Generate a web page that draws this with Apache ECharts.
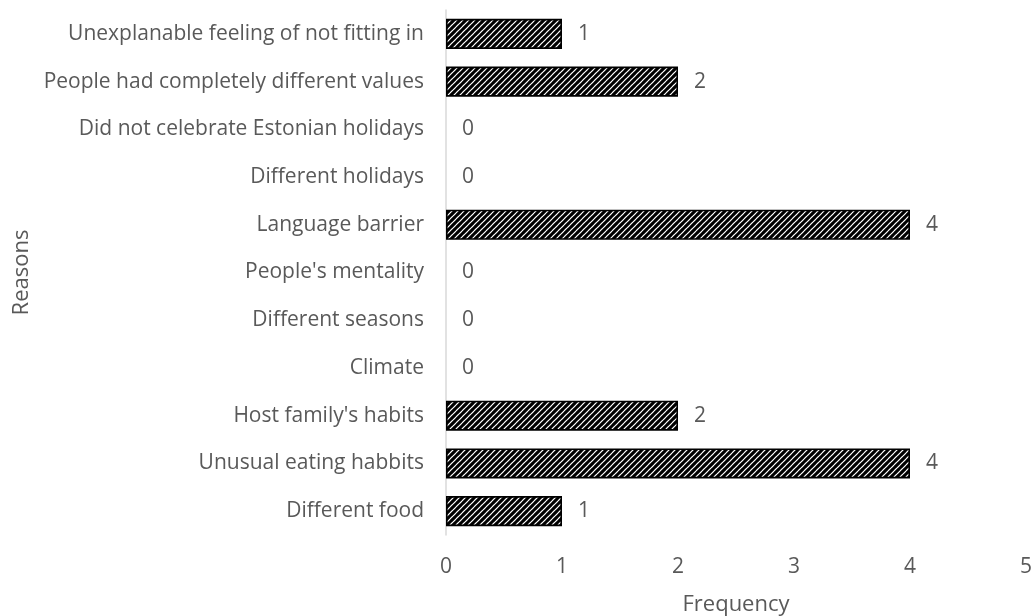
<!DOCTYPE html>
<html>
<head>
<meta charset="utf-8">
<script src="https://cdn.jsdelivr.net/npm/echarts@6/dist/echarts.min.js"></script>
<style>
html,body{margin:0;padding:0;background:#fff;}
#chart{width:1036px;height:616px;}
</style>
</head>
<body>
<div id="chart"></div>
<script>
// Reasons, listed bottom-to-top as drawn on the category axis
const reasons = [
  'Different food',
  'Unusual eating habbits',
  "Host family's habits",
  'Climate',
  'Different seasons',
  "People's mentality",
  'Language barrier',
  'Different holidays',
  'Did not celebrate Estonian holidays',
  'People had completely different values',
  'Unexplanable feeling of not fitting in'
];
const frequency = [1, 4, 2, 0, 0, 0, 4, 0, 0, 2, 1];
const xTicks = [0, 1, 2, 3, 4, 5];

// Wide upward diagonal hatch fill
function hatch() {
  const s = 6;
  const c = document.createElement('canvas');
  c.width = s; c.height = s;
  const g = c.getContext('2d');
  g.fillStyle = '#fff';
  g.fillRect(0, 0, s, s);
  g.strokeStyle = '#000';
  g.lineWidth = 3.1;
  g.beginPath();
  g.moveTo(-1, s + 1); g.lineTo(s + 1, -1);
  g.moveTo(-1, 1); g.lineTo(1, -1);
  g.moveTo(s - 1, s + 1); g.lineTo(s + 1, s - 1);
  g.stroke();
  return c;
}

const font = '"Open Sans", Lato, sans-serif';
const fill = { image: hatch(), repeat: 'repeat' };

// Empty categories get no outline, only their label
const barData = frequency.map(v => ({
  value: v,
  itemStyle: v === 0 ? { borderWidth: 0, color: 'transparent' } : {}
}));

const chart = echarts.init(document.getElementById('chart'));
chart.setOption({
  animation: false,
  grid: { left: 446, right: 10, top: 10, bottom: 81, containLabel: false, outerBoundsMode: 'none' },
  xAxis: {
    type: 'value',
    min: xTicks[0],
    max: xTicks[xTicks.length - 1],
    interval: 1,
    name: 'Frequency',
    nameLocation: 'middle',
    nameGap: 59,
    nameTextStyle: { color: '#595959', fontSize: 22, fontFamily: font },
    axisLine: { show: false },
    axisTick: { show: false },
    splitLine: { show: false },
    axisLabel: { color: '#595959', fontSize: 21, fontFamily: font, margin: 22 }
  },
  yAxis: {
    type: 'category',
    data: reasons,
    name: 'Reasons',
    nameLocation: 'middle',
    nameGap: 413,
    nameTextStyle: { color: '#595959', fontSize: 22, fontFamily: font },
    axisLine: { show: true, lineStyle: { color: '#d9d9d9', width: 1.5 } },
    axisTick: { show: false },
    axisLabel: { color: '#595959', fontSize: 21, fontFamily: font, margin: 22 }
  },
  series: [{
    type: 'bar',
    data: barData,
    barCategoryGap: '37%',
    itemStyle: {
      color: fill,
      borderColor: '#000',
      borderWidth: 1.6
    },
    label: {
      show: true,
      position: 'right',
      distance: 16,
      color: '#595959',
      fontSize: 21,
      fontFamily: font
    }
  }]
});
</script>
</body>
</html>
